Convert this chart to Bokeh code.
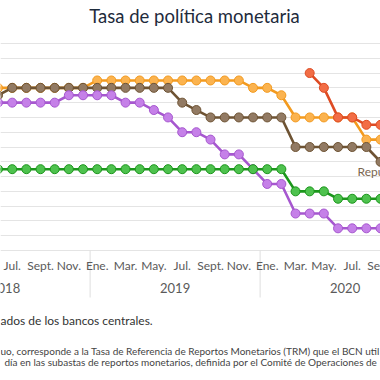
from bokeh.plotting import figure
from bokeh.models import FixedTicker, Grid, Range1d, ColumnDataSource
from bokeh.core.properties import value
from bokeh.embed import file_html
from bokeh.resources import INLINE

NaN = float("nan")

# Months shown (Jun 2018 .. Sep 2020)
months = ["2018-06", "2018-07", "2018-08", "2018-09", "2018-10", "2018-11", "2018-12",
          "2019-01", "2019-02", "2019-03", "2019-04", "2019-05", "2019-06", "2019-07",
          "2019-08", "2019-09", "2019-10", "2019-11", "2019-12",
          "2020-01", "2020-02", "2020-03", "2020-04", "2020-05", "2020-06", "2020-07",
          "2020-08", "2020-09"]

month_names = {1: "Ene.", 3: "Mar.", 5: "May.", 7: "Jul.", 9: "Sept.", 11: "Nov."}
years = ["2018", "2019", "2020"]

honduras = [5.50, 5.50, 5.50, 5.50, 5.50, 5.50, 5.50,
            5.75, 5.75, 5.75, 5.75, 5.75, 5.75, 5.75, 5.75, 5.75, 5.75, 5.75, 5.50,
            5.50, 5.25, 4.50, 4.50, 4.50, 4.50, 4.50, 3.75, 3.75]
rep_dominicana = [5.25, 5.50, 5.50, 5.50, 5.50, 5.50, 5.50,
                  5.50, 5.50, 5.50, 5.50, 5.50, 5.50, 5.00, 4.75, 4.50, 4.50, 4.50, 4.50,
                  4.50, 4.50, 3.50, 3.50, 3.50, 3.50, 3.50, 3.50, 3.00]
costa_rica = [5.00, 5.00, 5.00, 5.00, 5.00, 5.25, 5.25,
              5.25, 5.25, 5.00, 5.00, 4.75, 4.50, 4.00, 4.00, 3.75, 3.25, 3.25, 2.75,
              2.25, 2.25, 1.25, 1.25, 1.25, 0.75, 0.75, 0.75, 0.75]
guatemala = [2.75, 2.75, 2.75, 2.75, 2.75, 2.75, 2.75,
             2.75, 2.75, 2.75, 2.75, 2.75, 2.75, 2.75, 2.75, 2.75, 2.75, 2.75, 2.75,
             2.75, 2.75, 2.00, 2.00, 2.00, 1.75, 1.75, 1.75, 1.75]
nicaragua = [NaN, NaN, NaN, NaN, NaN, NaN, NaN,
             NaN, NaN, NaN, NaN, NaN, NaN, NaN, NaN, NaN, NaN, NaN, NaN,
             NaN, NaN, NaN, 6.00, 5.50, 4.50, 4.50, 4.25, 4.25]

series = [
    (honduras, "#F39A1E", "#FBB34F"),
    (rep_dominicana, "#6E5333", "#927A63"),
    (costa_rica, "#A657CF", "#C580E8"),
    (guatemala, "#1C961C", "#4EC24E"),
    (nicaragua, "#DE4B23", "#F26D45"),
]

def midx(s):
    y, m = s.split("-")
    return (int(y) - 2018) * 12 + int(m) - 1

xs = [midx(s) for s in months]

# layout: picture pixel -> data helpers
PX_M = 170.0 / 12.0      # pixels per month
PX_V = 207.0 / 7.0       # pixels per unit
W, H = 380, 380

def xm(px):
    return 6 + (px - 11.7) / PX_M

def yv(py):
    return (250 - py) / PX_V

FONT = value("Lato")

p = figure(width=W, height=H, output_backend="svg", toolbar_location=None,
           x_axis_type=None, y_axis_type=None,
           x_range=Range1d(xm(0), xm(W)), y_range=Range1d(yv(H), yv(0)),
           min_border_left=0, min_border_right=0,
           min_border_top=0, min_border_bottom=0)
p.outline_line_color = None
p.background_fill_color = "white"
p.border_fill_color = "white"

grid = Grid(dimension=1, ticker=FixedTicker(ticks=[0.5 * i for i in range(0, 15)]),
            grid_line_color="#e4e4e4", grid_line_width=1)
p.add_layout(grid)

# year separators below the axis line
sep_x = [11.5, 23.5]
p.segment(x0=sep_x, x1=sep_x, y0=[0, 0], y1=[yv(297), yv(297)],
          line_color="#dedede", line_width=1)

for vals, lc, fc in series:
    src = ColumnDataSource(dict(x=xs, y=vals))
    p.line("x", "y", source=src, line_color=lc, line_width=2.6)
    p.scatter("x", "y", source=src, size=9, fill_color=fc, line_color=lc, line_width=1)

# month tick labels
tick_pos = [m for m in range(0, 36) if (m % 12 + 1) in month_names]
p.text(x=tick_pos, y=[yv(265)] * len(tick_pos),
       text=[month_names[m % 12 + 1] for m in tick_pos],
       text_align="center", text_baseline="middle",
       text_font=FONT, text_font_size="12px", text_color="#5a5a5a")

# year labels
yc = [5.5 + 12 * i for i in range(len(years))]
p.text(x=yc, y=[yv(287)] * len(yc), text=years,
       text_align="center", text_baseline="middle",
       text_font=FONT, text_font_size="13px", text_color="#5a5a5a")

# title
p.text(x=[xm(194)], y=[yv(15)], text=["Tasa de política monetaria"],
       text_align="center", text_baseline="middle",
       text_font=FONT, text_font_size="18.5px", text_color="#1e2b3c")

# series label
p.text(x=[xm(357)], y=[yv(171)], text=["República Dominicana"],
       text_align="left", text_baseline="middle",
       text_font=FONT, text_font_size="12px", text_color="#7a6650")

# notes
p.text(x=[xm(0)], y=[yv(320)], text=["ados de los bancos centrales."],
       text_align="left", text_baseline="middle",
       text_font=FONT, text_font_size="12px", text_color="#333333")
p.text(x=[xm(0)], y=[yv(350)],
       text=["uo, corresponde a la Tasa de Referencia de Reportos Monetarios (TRM) que el BCN util"],
       text_align="left", text_baseline="middle",
       text_font=FONT, text_font_size="10px", text_color="#444444")
p.text(x=[xm(4)], y=[yv(361)],
       text=["día en las subastas de reportos monetarios, definida por el Comité de Operaciones de"],
       text_align="left", text_baseline="middle",
       text_font=FONT, text_font_size="10px", text_color="#444444")

open("out.html", "w").write(file_html(p, INLINE))
